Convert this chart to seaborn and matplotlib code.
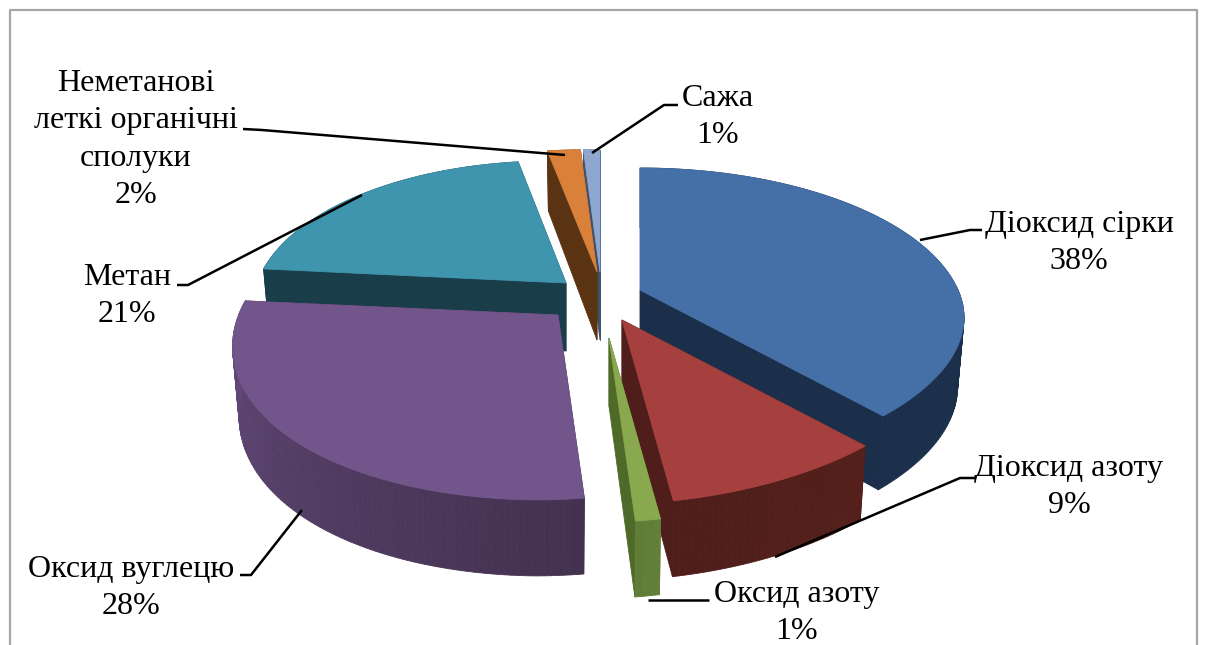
import numpy as np
import matplotlib
matplotlib.use("Agg")
import matplotlib.pyplot as plt
import seaborn as sns
from matplotlib.colors import to_rgb

# ---------- data ----------
names = ["Діоксид сірки", "Діоксид азоту", "Оксид азоту", "Оксид вуглецю",
         "Метан", "Неметанові\nлеткі органічні\nсполуки", "Сажа"]
values = [38, 9, 1, 28, 21, 2, 1]

# ---------- style ----------
top_colors = sns.color_palette(["#4570A7", "#A5403E", "#8AA84E", "#71558B", "#3F94AE", "#D9813A", "#8FA6CF"])
wall_colors = sns.color_palette(["#1B2F4B", "#501E1A", "#4F6A28", "#43314F", "#193E4A", "#5A3412", "#3E5270"])
rim_start = sns.color_palette(["#1B2F4B", "#55201C", "#64803A", "#43314F", "#193E4A", "#5A3412", "#3E5270"])
rim_end = sns.color_palette(["#1B2F4B", "#4F1E1A", "#5F7C36", "#644B7C", "#193E4A", "#5A3412", "#3E5270"])

# ---------- layout (pixel space of the figure) ----------
apex = [(640, 290), (622, 320), (609, 338), (558, 315), (566, 283), (597, 272), (600, 272)]
x_scale = [1.0, 1.0, 1.0, 0.998, 0.965, 1.0, 1.0]
draw_order = [4, 6, 5, 0, 3, 1, 2]
RX, RY, PERSP, SHEAR, TILT = 318, 147, 0.205, 24, 5
# x centre and the baseline of each label's last line
label_pos = [(1079, 269), (1069, 513), (797, 639), (131, 614), (127, 322), (136, 203), (718, 143)]
leaders = [
    [(920, 240), (970, 230), (982, 230)],
    [(775, 557), (960, 478), (975, 478)],
    [(648, 600), (709, 600)],
    [(302, 510), (251, 575), (240, 575)],
    [(362, 195), (188, 285), (177, 285)],
    [(565, 155), (262, 130), (243, 129)],
    [(592, 153), (664, 105), (678, 105)],
]

sns.set_theme(style="white")
plt.rcParams["font.family"] = ["Liberation Serif", "DejaVu Serif"]
fig = plt.figure(figsize=(12.07, 6.45), dpi=100, facecolor="white")
ax = fig.add_axes([0, 0, 1, 1])
ax.set_xlim(0, 1207)
ax.set_ylim(645, 0)
ax.axis("off")


def project(a, theta, r=1.0, low=False, sx=1.0):
    """World point on a slice (clockwise angle from 12 o'clock) to figure pixels."""
    wx, wy = r * np.sin(theta), r * np.cos(theta)
    s = 1.0 / (1.0 + PERSP * wy)
    dx = sx * RX * wx * s - SHEAR * np.minimum(wy, 0) ** 2
    dy = -RY * wy * s + TILT * np.minimum(wx, 0)
    if low:
        dx = dx * 0.98
        dy = dy + 68 - 8 * wy
    return a[0] + dx, a[1] + dy


def quad(a, t0, t1, face, z, sx):
    ts = np.linspace(t0, t1, 2)
    x0, y0 = project(a, ts, sx=sx)
    x1, y1 = project(a, ts, low=True, sx=sx)
    ax.fill(np.r_[x0, x1[::-1]], np.r_[y0, y1[::-1]], color=face, lw=0.6, zorder=z)


edges = np.radians(np.r_[0, np.cumsum(values)] / sum(values) * 360)

for rank, i in enumerate(draw_order):
    a, sx = apex[i], x_scale[i]
    t0, t1 = edges[i], edges[i + 1]
    z = 2 + rank
    # straight cut walls
    for t in (t0, t1):
        xa, ya = project(a, t, 0.0, sx=sx)
        xb, yb = project(a, t, 0.0, low=True, sx=sx)
        xc, yc = project(a, t, 1.0, low=True, sx=sx)
        xd, yd = project(a, t, 1.0, sx=sx)
        ax.fill([xa, xd, xc, xb], [ya, yd, yc, yb], color=wall_colors[i], lw=0.6, zorder=z)
    # outer rim, shaded strip by strip
    n = max(int((t1 - t0) * 60), 3)
    ts = np.linspace(t0, t1, n + 1)
    c0, c1 = np.array(to_rgb(rim_start[i])), np.array(to_rgb(rim_end[i]))
    for k in range(n):
        f = (k + 0.5) / n
        quad(a, ts[k], ts[k + 1], tuple(c1 * f + c0 * (1 - f)), z, sx)
    # top face
    tt = np.linspace(t0, t1, 80)
    x, y = project(a, tt, sx=sx)
    ax.fill(np.r_[a[0], x], np.r_[a[1], y], color=top_colors[i], lw=0.6, zorder=z)

for pts in leaders:
    px, py = zip(*pts)
    ax.plot(px, py, color="black", lw=1.8, zorder=20, solid_capstyle="butt")

for name, v, (lx, ly) in zip(names, values, label_pos):
    ax.text(lx, ly, f"{name}\n{v}%", ha="center", va="baseline", multialignment="center",
            fontsize=23, color="black", linespacing=1.38, zorder=21)

ax.plot([10, 10, 1197, 1197], [645, 10, 10, 645], color="#A6A6A6", lw=1.6, zorder=1)

fig.savefig("out.png", dpi=100, facecolor="white")
